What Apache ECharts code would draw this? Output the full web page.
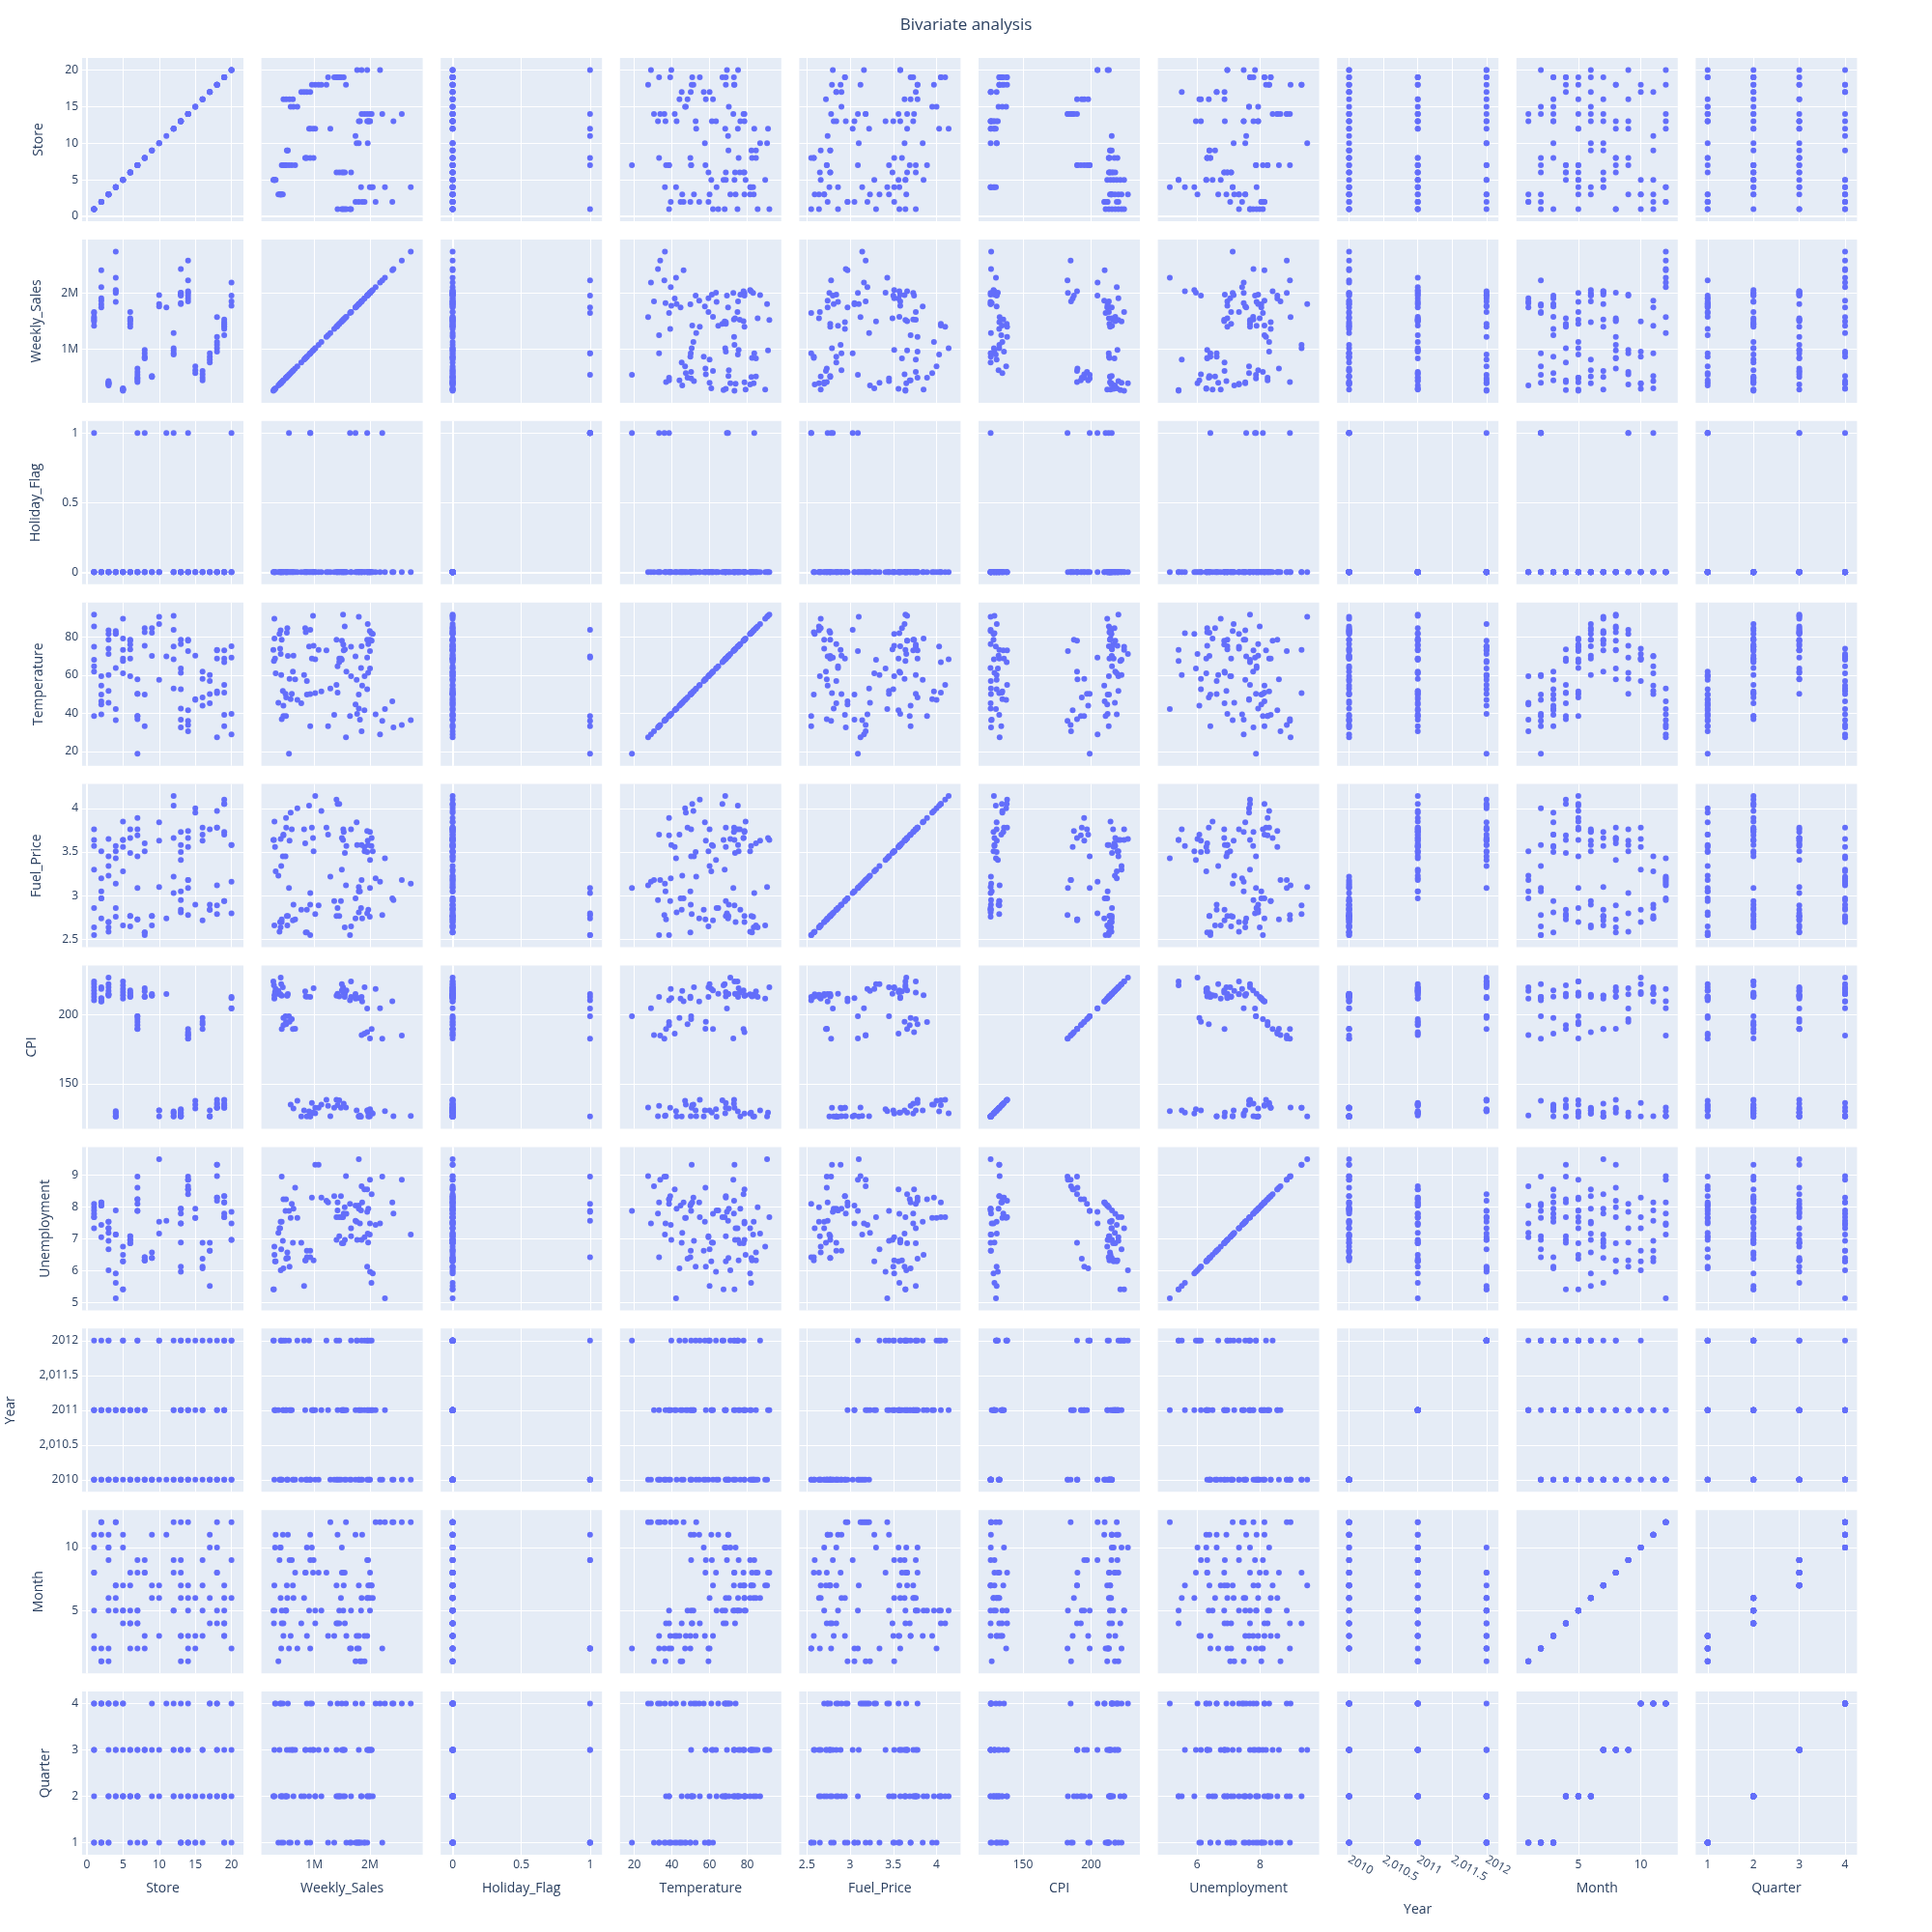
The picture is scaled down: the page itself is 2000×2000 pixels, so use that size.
<!DOCTYPE html>
<html><head><meta charset="utf-8">
<script src="https://cdn.jsdelivr.net/npm/echarts@6/dist/echarts.min.js"></script>
<style>html,body{margin:0;padding:0;background:#fff}#c{width:2000px;height:2000px}</style>
</head><body><div id="c"></div>
<script>
// ---- data (one entry per observation row) ----
const store = [
1,1,1,1,1,1,1,
2,2,2,2,2,2,
3,3,3,3,3,3,3,3,
4,4,4,4,4,4,
5,5,5,5,5,5,
6,6,6,6,6,6,
7,7,7,7,7,7,7,
8,8,8,8,8,
9,9,9,
10,10,10,
11,
12,12,12,12,12,
13,13,13,13,13,13,13,13,
14,14,14,14,14,14,14,
15,15,15,
16,16,16,16,
17,17,17,17,
18,18,18,18,18,18,
19,19,19,19,19,19,19,
20,20,20,20];
const weeklySales = [
1643690,1548970,1420410,1578640,1519230,1497460,1661770,
1861400,2401390,1742510,1800730,2102110,1904560,
420570,401230,381450,392690,361250,441280,412350,403210,
1841370,1998210,2731480,2051250,2027680,2268930,
289540,291230,301550,312480,281590,271430,
1662480,1451270,1402130,1551890,1523470,1498210,
421380,661540,451670,498230,601720,551190,489310,
931560,872340,851260,841730,992180,
521840,512630,531470,
1801230,1762450,1961340,
1741580,
932410,1291870,1021350,981460,911240,
1801560,1971240,2421380,1821470,2001360,1968320,1951280,2002470,
2221360,2001450,2571240,1851360,1901280,1951470,2031240,
631280,581470,701360,
621350,501240,561470,451280,
771230,871450,931360,821480,
1021340,1081260,1571480,1131250,961370,1221460,
1361230,1481250,1251360,1421470,1531280,1401360,1451240,
1951360,2181240,1771360,1851240];
const holidayFlag = [
1,0,0,0,0,0,0,
0,0,0,0,0,0,
0,0,0,0,0,0,0,0,
0,0,0,0,0,0,
0,0,0,0,0,0,
0,0,0,0,0,0,
0,0,0,0,0,1,0,
1,0,0,0,0,
0,0,0,
0,0,0,
1,
1,0,0,0,0,
0,0,0,0,0,0,0,0,
1,0,0,0,0,0,0,
0,0,0,
0,0,0,0,
0,0,0,0,
0,0,0,0,0,0,
0,0,0,0,0,0,0,
1,0,0,0];
const temperature = [
38.5,85.5,64.6,61.8,91.7,68.0,74.8,
54.5,46.2,44.6,49.8,39.4,59.4,
78.5,83.4,81.5,73.8,45.5,51.7,60.0,71.0,
63.7,83.1,36.3,81.5,82.0,42.2,
89.5,79.1,68.6,60.9,67.4,73.2,
59.4,68.6,78.5,73.5,76.0,78.0,
36.9,57.8,38.5,38.5,50.2,18.8,50.2,
33.2,49.8,82.5,84.6,75.4,
84.6,82.2,70.0,
90.5,57.5,86.8,
69.8,
83.7,52.9,68.3,91.0,75.0,
42.5,76.3,32.6,36.6,78.5,61.2,52.6,63.4,
36.0,72.6,33.8,30.5,41.5,78.5,78.0,
70.2,47.4,47.0,
61.8,48.3,58.0,44.0,
45.2,56.9,50.0,60.0,
50.5,73.2,27.4,51.4,68.6,73.0,
39.1,68.6,33.2,50.8,72.9,54.8,66.8,
69.2,28.9,39.7,75.1];
const fuelPrice = [
2.55,2.64,2.86,3.57,3.64,3.30,3.76,
2.74,2.97,2.97,3.05,3.20,3.51,
2.70,2.64,2.59,2.70,3.23,3.45,3.34,3.65,
2.86,2.76,3.14,3.51,3.57,3.43,
2.66,3.85,3.56,3.28,3.64,3.64,
2.65,2.77,2.77,3.49,3.76,3.66,
2.73,2.73,3.69,3.89,3.76,3.09,3.45,
2.55,2.58,2.58,3.60,3.51,
2.66,2.77,2.77,
3.10,3.84,3.63,
2.74,
3.03,3.22,4.14,3.66,4.03,
2.81,2.84,2.95,3.05,3.73,3.58,3.50,3.41,
2.78,3.09,3.18,3.18,3.56,3.74,3.66,
2.90,3.95,4.00,
2.72,3.78,3.63,3.70,
2.84,2.84,2.90,3.76,
2.79,2.89,3.12,3.97,3.78,3.78,
2.94,2.94,3.70,4.05,3.73,4.10,4.05,
2.80,3.16,3.58,3.58];
const cpi = [
210.7,213.1,215.4,217.8,220.1,222.4,224.3,
209.7,210.0,211.9,212.2,218.9,220.1,
213.9,214.7,215.0,215.2,217.5,220.1,222.4,227.1,
126.1,126.2,126.6,128.3,129.0,130.1,
211.9,214.3,216.6,218.9,221.5,224.3,
213.1,213.5,214.0,215.4,216.2,217.8,
189.7,190.0,192.5,194.9,197.0,199.0,199.0,
213.0,213.2,213.5,217.2,219.4,
213.9,214.1,215.2,
126.2,130.6,130.7,
215.2,
126.2,126.4,128.6,129.0,130.0,
126.2,126.2,126.5,127.0,128.3,129.0,130.6,131.5,
182.7,183.0,185.0,185.3,186.5,187.4,189.7,
132.0,134.8,137.6,
189.7,193.2,195.0,197.9,
126.2,126.3,126.4,130.6,
132.5,132.6,132.8,134.8,136.0,138.3,
132.5,132.6,134.0,134.5,135.5,138.3,138.0,
204.7,204.8,212.2,213.1];
const unemployment = [
8.09,7.99,7.89,7.78,7.68,7.68,7.33,
8.14,8.14,8.04,8.04,7.43,7.05,
7.53,7.53,7.33,7.33,7.18,6.93,6.67,6.01,
7.89,7.13,7.13,5.91,5.61,5.13,
6.75,6.49,6.29,6.29,5.41,5.41,
7.08,7.08,6.96,6.96,6.86,6.86,
8.95,8.60,8.24,8.24,8.09,7.87,7.87,
6.42,6.42,6.32,6.32,6.32,
6.57,6.39,6.39,
9.50,7.53,7.16,
7.56,
null,null,null,null,null,
7.94,7.94,7.79,7.48,7.48,6.88,6.12,5.96,
8.95,8.85,8.85,8.65,8.55,8.55,8.40,
7.94,7.65,7.65,
6.87,6.37,6.12,6.07,
6.87,6.62,6.62,5.51,
9.32,9.32,8.97,8.29,8.29,8.19,
8.34,8.34,8.14,8.14,7.79,7.68,7.68,
7.84,7.48,6.96,6.96];
const year = [
2010,2010,2010,2011,2011,2011,2012,
2010,2010,2011,2011,2011,2012,
2010,2010,2010,2010,2011,2011,2012,2012,
2010,2010,2010,2011,2011,2011,
2010,2011,2011,2011,2012,2012,
2010,2010,2010,2011,2011,2011,
2010,2010,2011,2011,2011,2012,2012,
2010,2010,2010,2011,2011,
2010,2010,2010,
2010,2012,2012,
2010,
2010,2010,2011,2011,2012,
2010,2010,2010,2011,2011,2011,2012,2012,
2010,2010,2010,2011,2011,2011,2012,
2010,2011,2012,
2010,2011,2011,2012,
2010,2010,2010,2012,
2010,2010,2010,2011,2011,2012,
2010,2010,2011,2011,2011,2012,2012,
2010,2010,2012,2012];
const month = [
2,8,11,3,8,10,5,
11,12,1,2,12,1,
5,6,9,10,1,11,2,10,
5,7,12,6,7,12,
7,5,10,11,4,5,
2,4,7,4,5,8,
4,8,4,5,9,2,5,
2,3,8,8,9,
6,7,11,
7,3,6,
11,
9,12,5,8,5,
3,7,12,1,6,9,3,8,
2,5,12,1,3,6,7,
6,3,2,
7,5,9,3,
4,10,11,6,
4,8,12,5,10,8,
3,6,3,4,7,4,5,
9,12,2,6];
const quarter = [
1,3,4,1,3,4,2,
4,4,1,1,4,1,
2,2,3,4,1,4,1,4,
2,3,4,2,3,4,
3,2,4,4,2,2,
1,2,3,2,2,3,
2,3,2,2,3,1,2,
1,1,3,3,3,
2,3,4,
3,1,2,
4,
3,4,2,3,2,
1,3,4,1,2,3,1,3,
1,2,4,1,1,2,3,
2,1,1,
3,2,3,1,
2,4,4,2,
2,3,4,2,4,3,
1,2,1,2,3,2,2,
3,4,1,2];

// ---- tick values and labels (x = bottom axes, y = left axes) ----
const storeTicks = [0,5,10,15,20];            const storeTickLabels = ['0','5','10','15','20'];
const salesTicks = [1000000,2000000];         const salesTickLabels = ['1M','2M'];
const holidayTicks = [0,0.5,1];               const holidayTickLabels = ['0','0.5','1'];
const temperatureTicks = [20,40,60,80];       const temperatureTickLabels = ['20','40','60','80'];
const fuelTicks = [2.5,3,3.5,4];              const fuelTickLabels = ['2.5','3','3.5','4'];
const cpiTicks = [150,200];                   const cpiTickLabels = ['150','200'];
const unemploymentYTicks = [5,6,7,8,9];       const unemploymentYTickLabels = ['5','6','7','8','9'];
const unemploymentXTicks = [6,8];             const unemploymentXTickLabels = ['6','8'];
const yearTicks = [2010,2010.5,2011,2011.5,2012]; const yearTickLabels = ['2010','2,010.5','2011','2,011.5','2012'];
const monthTicks = [5,10];                    const monthTickLabels = ['5','10'];
const quarterTicks = [1,2,3,4];               const quarterTickLabels = ['1','2','3','4'];

const dims = [
  {name:'Store', values:store, xt:storeTicks, xl:storeTickLabels, yt:storeTicks, yl:storeTickLabels, yGap:38, xGap:28},
  {name:'Weekly_Sales', values:weeklySales, xt:salesTicks, xl:salesTickLabels, yt:salesTicks, yl:salesTickLabels, yGap:40, xGap:28},
  {name:'Holiday_Flag', values:holidayFlag, xt:holidayTicks, xl:holidayTickLabels, yt:holidayTicks, yl:holidayTickLabels, yGap:41, xGap:28},
  {name:'Temperature', values:temperature, xt:temperatureTicks, xl:temperatureTickLabels, yt:temperatureTicks, yl:temperatureTickLabels, yGap:38, xGap:28},
  {name:'Fuel_Price', values:fuelPrice, xt:fuelTicks, xl:fuelTickLabels, yt:fuelTicks, yl:fuelTickLabels, yGap:40, xGap:28},
  {name:'CPI', values:cpi, xt:cpiTicks, xl:cpiTickLabels, yt:cpiTicks, yl:cpiTickLabels, yGap:45, xGap:28},
  {name:'Unemployment', values:unemployment, xt:unemploymentXTicks, xl:unemploymentXTickLabels, yt:unemploymentYTicks, yl:unemploymentYTickLabels, yGap:31, xGap:28},
  {name:'Year', values:year, xt:yearTicks, xl:yearTickLabels, yt:yearTicks, yl:yearTickLabels, yGap:67, xGap:50, rotate:true},
  {name:'Month', values:month, xt:monthTicks, xl:monthTickLabels, yt:monthTicks, yl:monthTickLabels, yGap:38, xGap:28},
  {name:'Quarter', values:quarter, xt:quarterTicks, xl:quarterTickLabels, yt:quarterTicks, yl:quarterTickLabels, yGap:31, xGap:28}
];

const FONT = '"Open Sans", verdana, arial, sans-serif';
const TXT = '#2a3f5f';
const LEFT = 85, TOP = 60, CW = 167, CH = 169, SX = 185.6, SY = 187.9;
const PAD = 0.087;

function extentOf(vals){
  let lo = Infinity, hi = -Infinity;
  vals.forEach(v => { if (v == null) return; if (v < lo) lo = v; if (v > hi) hi = v; });
  const r = hi - lo;
  return [lo - PAD * r, hi + PAD * r];
}
function labelFor(ticks, labels, v){
  for (let i = 0; i < ticks.length; i++) if (Math.abs(ticks[i] - v) < 1e-9) return labels[i];
  return '';
}
function axisCfg(d, k, show, which){
  const ext = extentOf(d.values);
  const ticks = which === 'x' ? d.xt : d.yt;
  const labels = which === 'x' ? d.xl : d.yl;
  return {
    type:'value', gridIndex:k, min:ext[0], max:ext[1],
    axisLine:{show:false},
    axisTick:{show:false, customValues:ticks},
    splitLine:{show:true, lineStyle:{color:'#ffffff', width:1}},
    axisLabel:{show:show, customValues:ticks, formatter:v => labelFor(ticks, labels, v),
      color:TXT, fontSize:12, fontFamily:FONT, margin:4,
      rotate:(which === 'x' && d.rotate) ? -30 : 0, hideOverlap:false},
    name: show ? d.name : '', nameLocation:'middle',
    nameGap: which === 'x' ? d.xGap : d.yGap,
    nameRotate: which === 'y' ? 90 : 0,
    nameTextStyle:{color:TXT, fontSize:14, fontFamily:FONT}
  };
}
function hasZero(d){ const e = extentOf(d.values); return e[0] < 0 && e[1] > 0; }

const n = dims.length;
const grids = [], xAxes = [], yAxes = [], series = [];
for (let r = 0; r < n; r++) {
  for (let c = 0; c < n; c++) {
    const k = r * n + c;
    const dx = dims[c], dy = dims[r];
    grids.push({left:LEFT + c * SX, top:TOP + r * SY, width:CW, height:CH,
      show:true, backgroundColor:'#E5ECF6', borderWidth:0, outerBoundsMode:'none'});
    xAxes.push(axisCfg(dx, k, r === n - 1, 'x'));
    yAxes.push(axisCfg(dy, k, c === 0, 'y'));
    const pts = [];
    for (let i = 0; i < store.length; i++) {
      const xv = dx.values[i], yv = dy.values[i];
      if (xv == null || yv == null) continue;
      pts.push([xv, yv]);
    }
    const zl = [];
    if (hasZero(dx)) zl.push({xAxis:0});
    if (hasZero(dy)) zl.push({yAxis:0});
    const s = {type:'scatter', xAxisIndex:k, yAxisIndex:k, data:pts, symbolSize:6, z:3,
      itemStyle:{color:'#636efa', opacity:1}, silent:true};
    if (zl.length) s.markLine = {silent:true, symbol:'none', z:1, animation:false,
      label:{show:false}, lineStyle:{color:'#ffffff', width:2, type:'solid'}, data:zl};
    series.push(s);
  }
}

const chart = echarts.init(document.getElementById('c'), null, {renderer:'canvas'});
chart.setOption({
  backgroundColor:'#ffffff',
  animation:false,
  title:{text:'Bivariate analysis', left:'center', top:13,
    textStyle:{fontSize:17, color:TXT, fontWeight:'normal', fontFamily:FONT}},
  grid:grids, xAxis:xAxes, yAxis:yAxes, series:series
});
</script></body></html>
